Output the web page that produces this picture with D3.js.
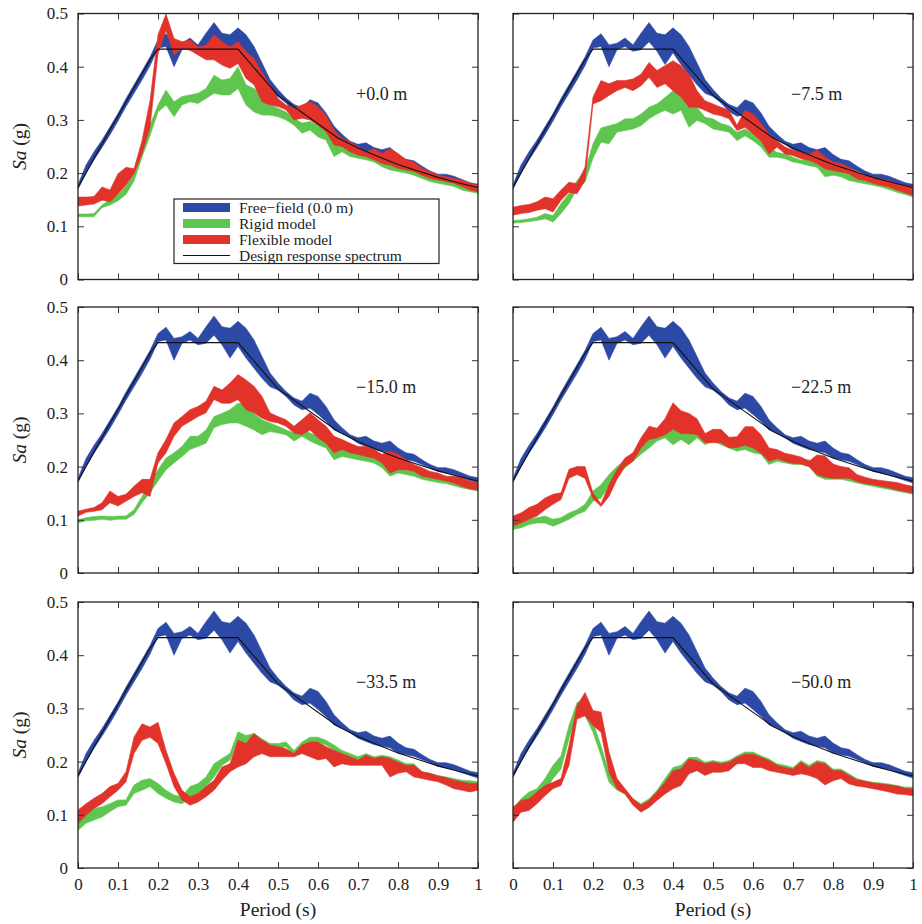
<!DOCTYPE html>
<html>
<head>
<meta charset="utf-8">
<script src="https://cdn.jsdelivr.net/npm/d3@7/dist/d3.min.js"></script>
<style>
  body { margin: 0; background: #fff; }
  text { font-family: "Liberation Serif", "Times New Roman", serif; fill: #222; }
</style>
</head>
<body>
<script>
// periods (s) shared by every band
var period = [0, 0.02, 0.04, 0.06, 0.08, 0.10, 0.12, 0.14, 0.16, 0.18, 0.20, 0.22, 0.24, 0.26, 0.28, 0.30, 0.32, 0.34, 0.36, 0.38, 0.40,
  0.42, 0.44, 0.46, 0.48, 0.50, 0.52, 0.54, 0.56, 0.58, 0.60, 0.62, 0.64, 0.66, 0.68, 0.70, 0.72, 0.74, 0.76, 0.78, 0.80,
  0.82, 0.84, 0.86, 0.88, 0.90, 0.92, 0.94, 0.96, 0.98, 1.00];

// free-field (0.0 m), same in every panel
var freeLo = [0.170, 0.200, 0.225, 0.248, 0.272, 0.298, 0.325, 0.350, 0.375, 0.402, 0.435, 0.438, 0.400, 0.432, 0.438, 0.429, 0.432, 0.447, 0.429, 0.404, 0.426,
  0.404, 0.385, 0.366, 0.350, 0.344, 0.332, 0.316, 0.307, 0.310, 0.298, 0.285, 0.269, 0.263, 0.254, 0.244, 0.238, 0.232, 0.229, 0.226, 0.216,
  0.213, 0.210, 0.204, 0.198, 0.191, 0.188, 0.185, 0.179, 0.174, 0.169];
var freeHi = [0.178, 0.215, 0.240, 0.262, 0.287, 0.312, 0.340, 0.366, 0.392, 0.418, 0.450, 0.462, 0.441, 0.444, 0.454, 0.441, 0.463, 0.483, 0.463, 0.460, 0.473,
  0.460, 0.438, 0.407, 0.376, 0.357, 0.341, 0.329, 0.323, 0.338, 0.332, 0.313, 0.288, 0.273, 0.260, 0.254, 0.257, 0.248, 0.244, 0.248, 0.235,
  0.226, 0.223, 0.213, 0.204, 0.198, 0.198, 0.194, 0.188, 0.182, 0.179];

// design response spectrum
var designT = [0, 0.07, 0.18, 0.2, 0.4, 0.5, 0.65, 0.7, 0.75, 0.8, 0.85, 0.9, 0.95, 1.0];
var designSa = [0.173, 0.268, 0.413, 0.433, 0.433, 0.346, 0.266, 0.247, 0.231, 0.216, 0.204, 0.192, 0.182, 0.173];

// +0.0 m
var rigid00Lo = [0.118, 0.118, 0.118, 0.135, 0.140, 0.148, 0.160, 0.185, 0.230, 0.270, 0.315, 0.328, 0.306, 0.328, 0.334, 0.331, 0.340, 0.350, 0.347, 0.347, 0.359,
  0.328, 0.315, 0.309, 0.309, 0.306, 0.300, 0.290, 0.275, 0.281, 0.268, 0.262, 0.231, 0.240, 0.231, 0.228, 0.225, 0.221, 0.212, 0.206, 0.203,
  0.200, 0.196, 0.190, 0.184, 0.181, 0.178, 0.175, 0.168, 0.165, 0.162];
var rigid00Hi = [0.123, 0.123, 0.124, 0.140, 0.150, 0.160, 0.175, 0.198, 0.250, 0.290, 0.328, 0.356, 0.334, 0.344, 0.347, 0.350, 0.359, 0.384, 0.375, 0.378, 0.400,
  0.366, 0.359, 0.347, 0.328, 0.322, 0.315, 0.303, 0.294, 0.297, 0.290, 0.281, 0.265, 0.253, 0.247, 0.240, 0.237, 0.231, 0.228, 0.221, 0.215,
  0.212, 0.206, 0.200, 0.193, 0.190, 0.187, 0.184, 0.178, 0.175, 0.171];
var flex00Lo = [0.138, 0.140, 0.142, 0.149, 0.146, 0.161, 0.177, 0.199, 0.236, 0.286, 0.424, 0.468, 0.422, 0.434, 0.431, 0.422, 0.413, 0.413, 0.403, 0.397, 0.406,
  0.378, 0.366, 0.334, 0.328, 0.325, 0.319, 0.300, 0.303, 0.300, 0.290, 0.278, 0.253, 0.250, 0.240, 0.234, 0.231, 0.225, 0.218, 0.215, 0.209,
  0.206, 0.203, 0.196, 0.190, 0.187, 0.184, 0.181, 0.175, 0.168, 0.165];
var flex00Hi = [0.155, 0.155, 0.156, 0.174, 0.168, 0.199, 0.211, 0.208, 0.261, 0.336, 0.460, 0.499, 0.453, 0.447, 0.450, 0.437, 0.440, 0.460, 0.447, 0.437, 0.447,
  0.428, 0.416, 0.390, 0.366, 0.340, 0.328, 0.322, 0.328, 0.334, 0.325, 0.309, 0.281, 0.265, 0.259, 0.250, 0.240, 0.246, 0.237, 0.246, 0.237,
  0.225, 0.221, 0.209, 0.203, 0.196, 0.193, 0.190, 0.187, 0.181, 0.178];

// -7.5 m
var rigid75Lo = [0.106, 0.107, 0.109, 0.111, 0.114, 0.108, 0.124, 0.143, 0.170, 0.183, 0.228, 0.258, 0.255, 0.277, 0.280, 0.283, 0.289, 0.302, 0.311, 0.318, 0.311,
  0.318, 0.286, 0.299, 0.293, 0.283, 0.280, 0.277, 0.261, 0.270, 0.261, 0.249, 0.230, 0.230, 0.227, 0.221, 0.218, 0.214, 0.211, 0.193, 0.196,
  0.193, 0.186, 0.183, 0.180, 0.177, 0.174, 0.169, 0.164, 0.160, 0.155];
var rigid75Hi = [0.111, 0.112, 0.114, 0.117, 0.124, 0.120, 0.143, 0.161, 0.186, 0.205, 0.255, 0.285, 0.289, 0.293, 0.302, 0.302, 0.311, 0.324, 0.330, 0.342, 0.355,
  0.368, 0.336, 0.324, 0.305, 0.302, 0.293, 0.289, 0.277, 0.283, 0.274, 0.264, 0.249, 0.239, 0.236, 0.230, 0.224, 0.227, 0.218, 0.211, 0.211,
  0.205, 0.202, 0.193, 0.186, 0.183, 0.180, 0.177, 0.171, 0.168, 0.164];
var flex75Lo = [0.121, 0.124, 0.126, 0.130, 0.133, 0.127, 0.149, 0.164, 0.161, 0.186, 0.330, 0.336, 0.346, 0.355, 0.361, 0.355, 0.364, 0.380, 0.361, 0.368, 0.355,
  0.343, 0.324, 0.324, 0.318, 0.311, 0.308, 0.302, 0.280, 0.286, 0.274, 0.261, 0.236, 0.249, 0.236, 0.233, 0.227, 0.224, 0.218, 0.208, 0.205,
  0.202, 0.199, 0.189, 0.186, 0.181, 0.177, 0.174, 0.168, 0.163, 0.158];
var flex75Hi = [0.136, 0.139, 0.141, 0.146, 0.155, 0.152, 0.168, 0.183, 0.180, 0.211, 0.343, 0.374, 0.368, 0.374, 0.374, 0.377, 0.386, 0.408, 0.393, 0.402, 0.411,
  0.402, 0.386, 0.355, 0.336, 0.330, 0.324, 0.318, 0.290, 0.318, 0.311, 0.293, 0.274, 0.261, 0.249, 0.243, 0.239, 0.236, 0.243, 0.230, 0.221,
  0.218, 0.211, 0.202, 0.196, 0.193, 0.189, 0.186, 0.180, 0.177, 0.174];

// -15.0 m
var rigid150Lo = [0.094, 0.098, 0.099, 0.101, 0.099, 0.101, 0.101, 0.110, 0.132, 0.151, 0.173, 0.194, 0.207, 0.219, 0.232, 0.238, 0.244, 0.273, 0.279, 0.282, 0.282,
  0.276, 0.269, 0.260, 0.266, 0.263, 0.260, 0.248, 0.257, 0.248, 0.241, 0.235, 0.213, 0.219, 0.216, 0.213, 0.210, 0.207, 0.198, 0.182, 0.188,
  0.185, 0.182, 0.176, 0.173, 0.170, 0.168, 0.164, 0.160, 0.157, 0.154];
var rigid150Hi = [0.100, 0.104, 0.106, 0.107, 0.106, 0.107, 0.107, 0.119, 0.144, 0.169, 0.194, 0.216, 0.226, 0.238, 0.257, 0.257, 0.269, 0.294, 0.300, 0.307, 0.319,
  0.316, 0.300, 0.288, 0.282, 0.276, 0.269, 0.263, 0.273, 0.263, 0.257, 0.251, 0.238, 0.235, 0.229, 0.226, 0.223, 0.219, 0.210, 0.207, 0.200,
  0.194, 0.191, 0.185, 0.182, 0.179, 0.176, 0.173, 0.169, 0.166, 0.163];
var flex150Lo = [0.107, 0.114, 0.116, 0.119, 0.132, 0.126, 0.135, 0.144, 0.151, 0.144, 0.207, 0.226, 0.257, 0.276, 0.285, 0.294, 0.301, 0.326, 0.319, 0.319, 0.326,
  0.307, 0.301, 0.291, 0.285, 0.282, 0.276, 0.263, 0.260, 0.269, 0.254, 0.244, 0.226, 0.232, 0.226, 0.223, 0.219, 0.216, 0.207, 0.188, 0.194,
  0.194, 0.191, 0.182, 0.179, 0.176, 0.173, 0.169, 0.163, 0.158, 0.156];
var flex150Hi = [0.116, 0.120, 0.123, 0.132, 0.154, 0.144, 0.148, 0.163, 0.176, 0.176, 0.226, 0.251, 0.282, 0.294, 0.307, 0.313, 0.323, 0.351, 0.344, 0.357, 0.373,
  0.363, 0.351, 0.332, 0.301, 0.294, 0.288, 0.276, 0.288, 0.301, 0.288, 0.276, 0.257, 0.251, 0.244, 0.238, 0.238, 0.232, 0.223, 0.229, 0.223,
  0.213, 0.204, 0.198, 0.191, 0.188, 0.182, 0.182, 0.179, 0.173, 0.169];

// -22.5 m
var rigid225Lo = [0.082, 0.085, 0.091, 0.094, 0.094, 0.088, 0.094, 0.101, 0.110, 0.116, 0.135, 0.141, 0.163, 0.182, 0.198, 0.210, 0.223, 0.235, 0.248, 0.254, 0.241,
  0.251, 0.241, 0.254, 0.241, 0.248, 0.241, 0.235, 0.229, 0.232, 0.226, 0.223, 0.204, 0.210, 0.207, 0.204, 0.204, 0.200, 0.182, 0.176, 0.176,
  0.176, 0.173, 0.169, 0.166, 0.163, 0.160, 0.157, 0.154, 0.151, 0.148];
var rigid225Hi = [0.091, 0.094, 0.101, 0.104, 0.107, 0.101, 0.104, 0.113, 0.119, 0.129, 0.154, 0.166, 0.185, 0.200, 0.213, 0.226, 0.238, 0.251, 0.260, 0.269, 0.269,
  0.279, 0.269, 0.273, 0.260, 0.260, 0.257, 0.248, 0.251, 0.254, 0.241, 0.232, 0.223, 0.226, 0.219, 0.216, 0.213, 0.213, 0.200, 0.191, 0.188,
  0.185, 0.182, 0.176, 0.173, 0.169, 0.166, 0.163, 0.160, 0.157, 0.155];
var flex225Lo = [0.088, 0.094, 0.101, 0.107, 0.119, 0.129, 0.138, 0.178, 0.185, 0.178, 0.140, 0.125, 0.144, 0.176, 0.200, 0.210, 0.235, 0.251, 0.254, 0.260, 0.270,
  0.262, 0.262, 0.260, 0.245, 0.245, 0.245, 0.235, 0.236, 0.240, 0.235, 0.225, 0.210, 0.215, 0.210, 0.206, 0.205, 0.200, 0.185, 0.180, 0.178,
  0.178, 0.178, 0.172, 0.168, 0.166, 0.163, 0.160, 0.156, 0.153, 0.150];
var flex225Hi = [0.107, 0.113, 0.123, 0.129, 0.141, 0.148, 0.151, 0.195, 0.200, 0.200, 0.150, 0.130, 0.166, 0.194, 0.216, 0.226, 0.254, 0.276, 0.272, 0.290, 0.320,
  0.305, 0.300, 0.290, 0.262, 0.270, 0.270, 0.255, 0.256, 0.275, 0.275, 0.260, 0.235, 0.232, 0.225, 0.222, 0.218, 0.210, 0.222, 0.220, 0.205,
  0.200, 0.198, 0.185, 0.180, 0.176, 0.174, 0.172, 0.170, 0.166, 0.163];

// -33.5 m
var rigid335Lo = [0.071, 0.084, 0.090, 0.096, 0.106, 0.115, 0.118, 0.140, 0.146, 0.153, 0.140, 0.131, 0.124, 0.121, 0.131, 0.140, 0.153, 0.171, 0.193, 0.203, 0.237,
  0.234, 0.240, 0.231, 0.224, 0.224, 0.228, 0.212, 0.228, 0.237, 0.237, 0.231, 0.221, 0.212, 0.206, 0.203, 0.206, 0.203, 0.203, 0.199, 0.193,
  0.187, 0.187, 0.174, 0.171, 0.168, 0.165, 0.162, 0.159, 0.156, 0.153];
var rigid335Hi = [0.084, 0.103, 0.112, 0.115, 0.121, 0.128, 0.128, 0.156, 0.165, 0.168, 0.159, 0.146, 0.137, 0.134, 0.153, 0.159, 0.171, 0.196, 0.206, 0.215, 0.256,
  0.249, 0.253, 0.243, 0.234, 0.234, 0.237, 0.221, 0.237, 0.246, 0.246, 0.240, 0.231, 0.221, 0.215, 0.209, 0.215, 0.209, 0.212, 0.209, 0.203,
  0.196, 0.196, 0.181, 0.178, 0.174, 0.171, 0.168, 0.165, 0.164, 0.162];
var flex335Lo = [0.084, 0.099, 0.112, 0.121, 0.134, 0.146, 0.162, 0.215, 0.240, 0.246, 0.234, 0.196, 0.153, 0.128, 0.118, 0.124, 0.134, 0.146, 0.165, 0.181, 0.190,
  0.196, 0.209, 0.215, 0.209, 0.209, 0.209, 0.209, 0.215, 0.209, 0.203, 0.206, 0.190, 0.196, 0.193, 0.193, 0.193, 0.193, 0.193, 0.171, 0.178,
  0.181, 0.171, 0.168, 0.165, 0.162, 0.156, 0.149, 0.146, 0.143, 0.146];
var flex335Hi = [0.109, 0.121, 0.131, 0.140, 0.153, 0.159, 0.181, 0.246, 0.271, 0.265, 0.274, 0.221, 0.178, 0.146, 0.134, 0.140, 0.153, 0.165, 0.190, 0.196, 0.240,
  0.234, 0.253, 0.240, 0.231, 0.228, 0.224, 0.215, 0.231, 0.237, 0.237, 0.228, 0.221, 0.215, 0.209, 0.203, 0.212, 0.206, 0.209, 0.206, 0.199,
  0.193, 0.193, 0.181, 0.178, 0.173, 0.170, 0.165, 0.162, 0.159, 0.159];

// -50.0 m
var rigid500Lo = [0.093, 0.111, 0.118, 0.130, 0.143, 0.168, 0.186, 0.243, 0.293, 0.286, 0.255, 0.211, 0.161, 0.146, 0.139, 0.121, 0.108, 0.114, 0.130, 0.143, 0.155,
  0.158, 0.180, 0.186, 0.177, 0.183, 0.183, 0.186, 0.199, 0.199, 0.193, 0.193, 0.186, 0.183, 0.180, 0.177, 0.180, 0.177, 0.171, 0.158, 0.168,
  0.171, 0.161, 0.155, 0.155, 0.152, 0.149, 0.146, 0.143, 0.139, 0.139];
var rigid500Hi = [0.111, 0.130, 0.143, 0.149, 0.168, 0.193, 0.211, 0.268, 0.311, 0.318, 0.274, 0.230, 0.180, 0.155, 0.146, 0.130, 0.121, 0.130, 0.146, 0.168, 0.189,
  0.193, 0.208, 0.208, 0.199, 0.202, 0.199, 0.202, 0.211, 0.218, 0.218, 0.211, 0.205, 0.196, 0.193, 0.189, 0.202, 0.193, 0.202, 0.199, 0.186,
  0.186, 0.177, 0.168, 0.164, 0.161, 0.160, 0.158, 0.155, 0.152, 0.152];
var flex500Lo = [0.086, 0.105, 0.108, 0.121, 0.136, 0.149, 0.155, 0.193, 0.280, 0.286, 0.268, 0.255, 0.180, 0.149, 0.139, 0.118, 0.105, 0.114, 0.127, 0.139, 0.149,
  0.155, 0.177, 0.183, 0.174, 0.180, 0.180, 0.183, 0.196, 0.196, 0.189, 0.189, 0.183, 0.180, 0.177, 0.174, 0.177, 0.174, 0.168, 0.156, 0.164,
  0.168, 0.158, 0.154, 0.152, 0.149, 0.146, 0.143, 0.139, 0.138, 0.136];
var flex500Hi = [0.114, 0.127, 0.130, 0.143, 0.155, 0.161, 0.168, 0.230, 0.305, 0.330, 0.296, 0.293, 0.218, 0.168, 0.149, 0.130, 0.118, 0.127, 0.143, 0.161, 0.183,
  0.186, 0.205, 0.202, 0.196, 0.199, 0.196, 0.199, 0.208, 0.214, 0.214, 0.208, 0.202, 0.193, 0.189, 0.186, 0.199, 0.189, 0.199, 0.196, 0.183,
  0.183, 0.174, 0.166, 0.163, 0.160, 0.158, 0.156, 0.154, 0.150, 0.149];

var depthLabels = ["+0.0 m", "\u22127.5 m", "\u221215.0 m", "\u221222.5 m", "\u221233.5 m", "\u221250.0 m"];
var xTicks = [0, 0.1, 0.2, 0.3, 0.4, 0.5, 0.6, 0.7, 0.8, 0.9, 1];
var yTicks = [0, 0.1, 0.2, 0.3, 0.4, 0.5];
var legendLabels = ["Free\u2212field (0.0 m)", "Rigid model", "Flexible model", "Design response spectrum"];

var colors = {free: "#2d49a6", rigid: "#5ec64f", flex: "#e1332a", design: "#111"};

// panel table built from the arrays above
var panels = [
  {label: depthLabels[0], rLo: rigid00Lo, rHi: rigid00Hi, fLo: flex00Lo, fHi: flex00Hi},
  {label: depthLabels[1], rLo: rigid75Lo, rHi: rigid75Hi, fLo: flex75Lo, fHi: flex75Hi},
  {label: depthLabels[2], rLo: rigid150Lo, rHi: rigid150Hi, fLo: flex150Lo, fHi: flex150Hi},
  {label: depthLabels[3], rLo: rigid225Lo, rHi: rigid225Hi, fLo: flex225Lo, fHi: flex225Hi},
  {label: depthLabels[4], rLo: rigid335Lo, rHi: rigid335Hi, fLo: flex335Lo, fHi: flex335Hi},
  {label: depthLabels[5], rLo: rigid500Lo, rHi: rigid500Hi, fLo: flex500Lo, fHi: flex500Hi}
];

// layout
var colLeft = [78, 513],
    rowTop = [13.5, 307, 602],
    width = 400,
    height = 266;

var x = d3.scaleLinear().domain([0, 1]).range([0, width]);
var y = d3.scaleLinear().domain([0, 0.5]).range([height, 0]);

var fmt = function(d) { return (d === 0 || d === 1) ? String(d) : d.toFixed(1); };

var band = d3.area()
    .x(function(d) { return x(d.t); })
    .y0(function(d) { return y(d.lo); })
    .y1(function(d) { return y(d.hi); });

var designLine = d3.line()
    .x(function(d) { return x(d.t); })
    .y(function(d) { return y(d.sa); });

function zipBand(lo, hi) {
  return period.map(function(t, i) { return {t: t, lo: lo[i], hi: hi[i]}; });
}

var freeBand = zipBand(freeLo, freeHi);
var designPts = designT.map(function(t, i) { return {t: t, sa: designSa[i]}; });

var svg = d3.select("body").append("svg")
    .attr("width", 922)
    .attr("height", 924);

svg.append("defs").append("clipPath")
    .attr("id", "plotclip")
  .append("rect")
    .attr("width", width)
    .attr("height", height);

panels.forEach(function(p, i) {
  var col = i % 2, row = Math.floor(i / 2);
  var g = svg.append("g")
      .attr("transform", "translate(" + colLeft[col] + "," + rowTop[row] + ")");

  var plot = g.append("g").attr("clip-path", "url(#plotclip)");

  // bands: free-field, rigid, flexible
  plot.append("path")
      .datum(freeBand)
      .attr("d", band)
      .attr("fill", colors.free)
      .attr("stroke", colors.free)
      .attr("stroke-width", 0.6);
  plot.append("path")
      .datum(zipBand(p.rLo, p.rHi))
      .attr("d", band)
      .attr("fill", colors.rigid)
      .attr("stroke", colors.rigid)
      .attr("stroke-width", 0.6);
  plot.append("path")
      .datum(zipBand(p.fLo, p.fHi))
      .attr("d", band)
      .attr("fill", colors.flex)
      .attr("stroke", colors.flex)
      .attr("stroke-width", 0.6);

  // design spectrum
  plot.append("path")
      .datum(designPts)
      .attr("d", designLine)
      .attr("fill", "none")
      .attr("stroke", colors.design)
      .attr("stroke-width", 1.1);

  // axes with inward ticks on all four sides
  var bottom = g.append("g")
      .attr("transform", "translate(0," + height + ")")
      .call(d3.axisBottom(x).tickValues(xTicks).tickSize(-6).tickPadding(10).tickFormat(row === 2 ? fmt : ""));
  var top = g.append("g")
      .call(d3.axisTop(x).tickValues(xTicks).tickSize(-6).tickFormat(""));
  var left = g.append("g")
      .call(d3.axisLeft(y).tickValues(yTicks).tickSize(-6).tickPadding(10).tickFormat(col === 0 ? fmt : ""));
  var right = g.append("g")
      .attr("transform", "translate(" + width + ",0)")
      .call(d3.axisRight(y).tickValues(yTicks).tickSize(-6).tickFormat(""));

  [bottom, top, left, right].forEach(function(a) {
    a.select(".domain").remove();
    a.selectAll(".tick line").attr("stroke", "#333").attr("stroke-width", 1);
    a.selectAll("text")
        .attr("font-family", "Liberation Serif")
        .attr("font-size", 17)
        .attr("fill", "#222");
  });

  g.append("rect")
      .attr("width", width)
      .attr("height", height)
      .attr("fill", "none")
      .attr("stroke", "#222")
      .attr("stroke-width", 1.3);

  // depth label
  g.append("text")
      .attr("x", 278)
      .attr("y", 86)
      .attr("font-size", 18)
      .text(p.label);

  // y title
  if (col === 0) {
    var yt = svg.append("text")
        .attr("transform", "translate(26," + (rowTop[row] + height / 2) + ") rotate(-90)")
        .attr("text-anchor", "middle")
        .attr("font-size", 19.5);
    yt.append("tspan").attr("font-style", "italic").text("Sa");
    yt.append("tspan").text(" (g)");
  }

  // x title
  if (row === 2) {
    svg.append("text")
        .attr("x", colLeft[col] + width / 2)
        .attr("y", 916)
        .attr("text-anchor", "middle")
        .attr("font-size", 19.5)
        .text("Period (s)");
  }

  // legend in the first panel
  if (i === 0) {
    var lg = g.append("g").attr("transform", "translate(96,185.5)");
    lg.append("rect")
        .attr("width", 265)
        .attr("height", 64.5)
        .attr("fill", "#fff")
        .attr("stroke", "#222")
        .attr("stroke-width", 1.2);
    var swatchColors = [colors.free, colors.rigid, colors.flex];
    legendLabels.forEach(function(lab, k) {
      var cy = 8.5 + k * 16;
      if (k < 3) {
        lg.append("rect")
            .attr("x", 9)
            .attr("y", cy - 4.5)
            .attr("width", 47)
            .attr("height", 9)
            .attr("fill", swatchColors[k]);
      } else {
        lg.append("line")
            .attr("x1", 9).attr("x2", 56)
            .attr("y1", cy).attr("y2", cy)
            .attr("stroke", colors.design)
            .attr("stroke-width", 1.1);
      }
      lg.append("text")
          .attr("x", 65)
          .attr("y", cy)
          .attr("dy", "0.35em")
          .attr("font-size", 15.5)
          .text(lab);
    });
  }
});
</script>
</body>
</html>
